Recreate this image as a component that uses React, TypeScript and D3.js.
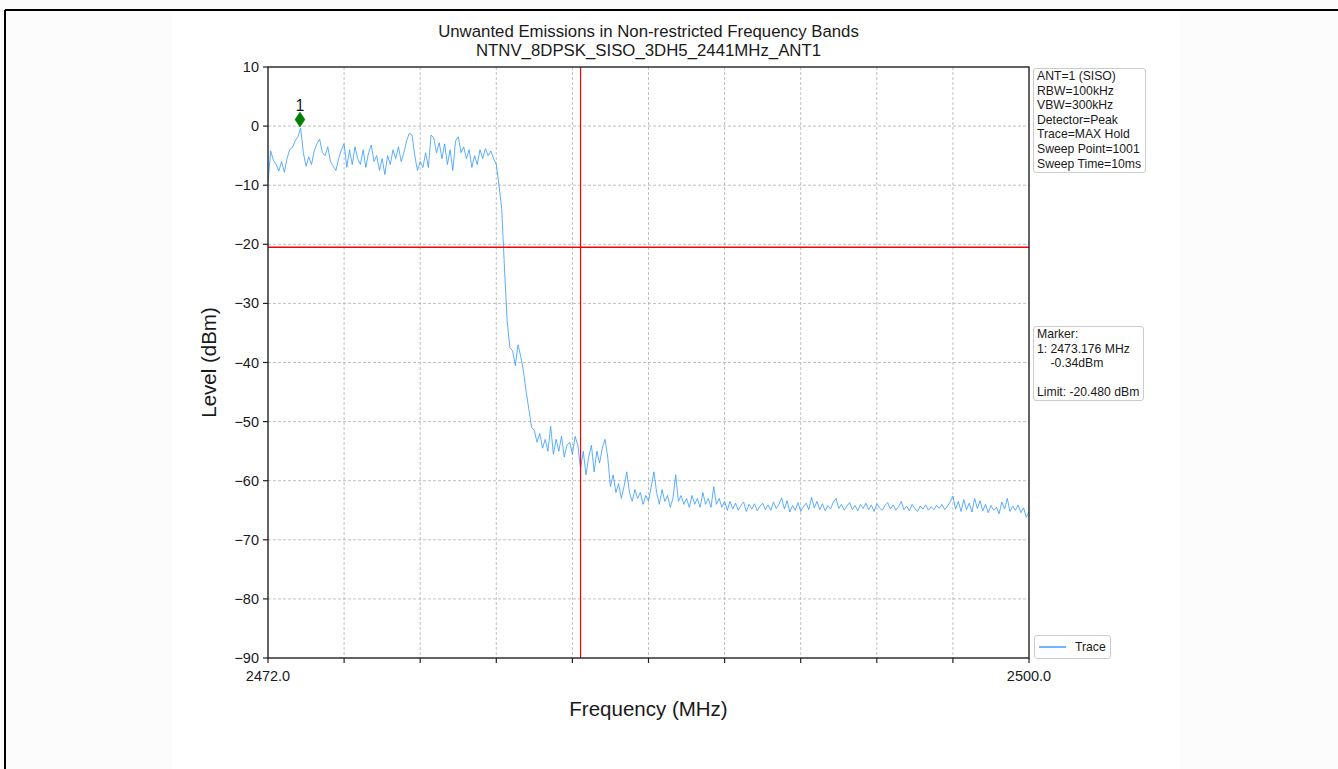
import React from "react";
import * as d3 from "d3";

const TITLE_LINES = ["Unwanted Emissions in Non-restricted Frequency Bands", "NTNV_8DPSK_SISO_3DH5_2441MHz_ANT1"];
const X_LABEL = "Frequency (MHz)";
const Y_LABEL = "Level (dBm)";
const F_START = 2472.0;
const F_STOP = 2500.0;
const F_STEP = 0.1;
const Y_MIN = -90;
const Y_MAX = 10;
const Y_TICKS = [10, 0, -10, -20, -30, -40, -50, -60, -70, -80, -90];
const X_TICK_LABELS = ["2472.0", "", "", "", "", "", "", "", "", "", "2500.0"];
const LIMIT_DBM = -20.48;
const BAND_EDGE_MHZ = 2483.5;
const MARKER_FREQ = 2473.176;
const MARKER_LEVEL = -0.34;
const MARKER_LABEL = "1";
const INFO_LINES = ["ANT=1 (SISO)", "RBW=100kHz", "VBW=300kHz", "Detector=Peak", "Trace=MAX Hold", "Sweep Point=1001", "Sweep Time=10ms"];
const MARKER_LINES = ["Marker:", "1: 2473.176 MHz", "    -0.34dBm", "", "Limit: -20.480 dBm"];
const LEGEND_LABEL = "Trace";

// Trace levels (dBm), one per 0.1 MHz from 2472.0 to 2500.0
const TRACE = [
  -9.5, -4.2, -5.8, -6.5, -7.6, -6.0, -7.8, -5.5, -4.0, -3.6,
  -2.5, -1.8, -0.34, -4.5, -6.8, -5.2, -6.5, -4.2, -3.0, -2.2,
  -4.5, -5.0, -3.5, -6.0, -6.8, -7.5, -5.5, -4.0, -3.0, -7.0,
  -4.0, -6.5, -3.5, -5.5, -6.5, -4.0, -7.0, -4.5, -3.2, -6.0,
  -5.0, -7.5, -5.5, -8.2, -5.0, -6.5, -4.0, -5.5, -3.5, -6.0,
  -4.5, -2.5, -1.2, -1.5, -5.0, -7.5, -6.0, -7.0, -4.5, -7.0,
  -1.5, -2.0, -4.5, -2.8, -5.5, -3.0, -6.5, -4.0, -7.5, -2.5,
  -1.8, -4.5, -3.5, -5.5, -4.0, -7.0, -5.0, -6.5, -4.0, -5.5,
  -3.8, -5.0, -4.2, -5.5, -6.5, -10.0, -14.0, -24.0, -33.0, -37.5,
  -38.0, -40.5, -37.0, -39.0, -41.5, -45.0, -48.0, -51.0, -51.5, -53.5,
  -52.0, -54.5, -53.0, -55.0, -50.8, -55.5, -53.0, -55.0, -52.5, -56.0,
  -54.0, -53.5, -55.5, -52.5, -54.0, -58.0, -55.0, -59.0, -56.0, -54.0,
  -58.5, -55.0, -57.0, -54.5, -53.0, -56.0, -61.0, -59.0, -62.0, -60.5,
  -63.0, -61.0, -58.5, -62.0, -63.5, -61.5, -63.0, -62.0, -64.0, -62.5,
  -63.5, -61.0, -58.5, -62.0, -64.0, -61.5, -63.5, -62.5, -64.5, -63.0,
  -59.0, -63.5, -62.5, -64.0, -63.0, -64.5, -62.5, -64.0, -63.0, -64.5,
  -62.0, -64.0, -63.0, -64.5, -61.0, -64.0, -63.0, -64.5, -63.5, -65.0,
  -63.5, -64.8, -63.8, -65.0, -64.2, -63.6, -65.2, -64.0, -64.8, -63.9,
  -65.1, -64.3, -63.8, -64.9, -64.1, -65.0, -63.6, -64.7, -64.0, -62.9,
  -64.8, -63.4, -65.3, -64.2, -65.0, -63.7, -65.2, -64.4, -63.8, -64.9,
  -62.8, -64.6, -63.5, -64.9, -63.9, -65.1, -64.2, -64.8, -63.6, -63.0,
  -64.7, -64.0, -65.0, -64.3, -63.7, -64.9, -64.2, -65.1, -64.0, -64.7,
  -63.8, -64.9, -64.1, -65.2, -63.9, -64.6, -65.0, -64.2, -63.7, -64.8,
  -64.1, -65.0, -64.4, -63.5, -64.9, -64.3, -65.1, -64.0, -64.7, -65.2,
  -64.3, -64.8, -64.1, -65.0, -64.4, -64.9, -64.2, -64.7, -64.0, -64.9,
  -64.3, -63.6, -62.6, -64.8, -63.5, -65.2, -63.2, -64.9, -63.8, -65.3,
  -63.0, -64.7, -63.4, -65.1, -64.0, -65.4, -64.2, -65.0, -64.5, -65.6,
  -63.6, -64.8, -63.0, -65.2, -64.3, -65.0, -64.1, -65.4, -64.6, -66.2,
  -65.3,
];

const W = 1338;
const H = 769;
const M = { left: 268, right: 1029, top: 67, bottom: 658 };
const FONT = "'Liberation Sans', Arial, Helvetica, sans-serif";
const TXT = "#1a1a1a";
const TRACE_COLOR = "#3399ff";

export default function App() {
  const x = d3.scaleLinear().domain([F_START, F_STOP]).range([M.left, M.right]);
  const y = d3.scaleLinear().domain([Y_MIN, Y_MAX]).range([M.bottom, M.top]);
  const xTicks = X_TICK_LABELS.map((_, i) => F_START + (i * (F_STOP - F_START)) / (X_TICK_LABELS.length - 1));
  const pts: [number, number][] = TRACE.map((v, i) => [F_START + i * F_STEP, v]);
  const line = d3.line<[number, number]>().x((d) => x(d[0])).y((d) => y(d[1]));
  const fmt = d3.format("d");
  const mx = x(MARKER_FREQ);
  const my = y(MARKER_LEVEL) - 8.5;

  return (
    <svg width={W} height={H} style={{ position: "absolute", left: 0, top: 0, display: "block" }} fontFamily={FONT}>
      <rect x={0} y={0} width={W} height={H} fill="#fcfcfc" />
      <rect x={172} y={11} width={1008} height={H - 11} fill="#ffffff" />
      <line x1={5} y1={10} x2={W} y2={10} stroke="#000" strokeWidth={2} />
      <line x1={5} y1={10} x2={5} y2={H} stroke="#000" strokeWidth={2} />

      {/* title */}
      {TITLE_LINES.map((t, i) => (
        <text key={t} x={(M.left + M.right) / 2} y={37 + i * 19} textAnchor="middle" fontSize={16.8} fill={TXT}>
          {t}
        </text>
      ))}

      {/* grid */}
      <g stroke="#b0b0b0" strokeWidth={0.8} strokeDasharray="3,2">
        {Y_TICKS.filter((t) => t !== Y_MIN && t !== Y_MAX).map((t) => (
          <line key={"gy" + t} x1={M.left} x2={M.right} y1={y(t)} y2={y(t)} />
        ))}
        {xTicks.slice(1, -1).map((t, i) => (
          <line key={"gx" + i} x1={x(t)} x2={x(t)} y1={M.top} y2={M.bottom} />
        ))}
      </g>

      {/* trace */}
      <path d={line(pts) || ""} fill="none" stroke={TRACE_COLOR} strokeWidth={0.8} strokeLinejoin="round" />

      {/* limit and band edge */}
      <line x1={M.left} x2={M.right} y1={y(LIMIT_DBM)} y2={y(LIMIT_DBM)} stroke="#ff0000" strokeWidth={1.5} />
      <line x1={x(BAND_EDGE_MHZ)} x2={x(BAND_EDGE_MHZ)} y1={M.top} y2={M.bottom} stroke="#ff0000" strokeWidth={1.2} />

      {/* marker */}
      <path d={`M${mx},${my - 7.5} L${mx + 5},${my} L${mx},${my + 7.5} L${mx - 5},${my} Z`} fill="#008000" stroke="#008000" strokeWidth={0.5} />
      <text x={mx} y={my - 8.5} textAnchor="middle" fontSize={16} fill={TXT}>
        {MARKER_LABEL}
      </text>

      {/* frame */}
      <rect x={M.left} y={M.top} width={M.right - M.left} height={M.bottom - M.top} fill="none" stroke="#222" strokeWidth={1.4} />

      {/* y ticks */}
      {Y_TICKS.map((t) => (
        <g key={"ty" + t}>
          <line x1={M.left - 5} x2={M.left} y1={y(t)} y2={y(t)} stroke="#222" strokeWidth={1.2} />
          <text x={M.left - 9} y={y(t) + 5} textAnchor="end" fontSize={14.5} fill={TXT}>
            {fmt(t)}
          </text>
        </g>
      ))}

      {/* x ticks */}
      {xTicks.map((t, i) => (
        <g key={"tx" + i}>
          <line x1={x(t)} x2={x(t)} y1={M.bottom} y2={M.bottom + 5} stroke="#222" strokeWidth={1.2} />
          {X_TICK_LABELS[i] && (
            <text x={x(t)} y={M.bottom + 23} textAnchor="middle" fontSize={14.5} fill={TXT}>
              {X_TICK_LABELS[i]}
            </text>
          )}
        </g>
      ))}

      {/* axis labels */}
      <text x={(M.left + M.right) / 2} y={716} textAnchor="middle" fontSize={20.5} fill={TXT}>
        {X_LABEL}
      </text>
      <text transform={`translate(216,${(M.top + M.bottom) / 2}) rotate(-90)`} textAnchor="middle" fontSize={20.5} fill={TXT}>
        {Y_LABEL}
      </text>

      {/* info box */}
      <rect x={1033.5} y={68.5} width={112} height={104} rx={2.5} fill="#fff" stroke="#cccccc" strokeWidth={1} />
      {INFO_LINES.map((t, i) => (
        <text key={"i" + i} x={1037} y={80 + i * 14.6} fontSize={12.2} fill={TXT}>
          {t}
        </text>
      ))}

      {/* marker box */}
      <rect x={1033.5} y={326.5} width={110} height={74} rx={2.5} fill="#fff" stroke="#cccccc" strokeWidth={1} />
      {MARKER_LINES.map((t, i) => (
        <text key={"m" + i} x={1037} y={338 + i * 14.6} fontSize={12.2} fill={TXT} style={{ whiteSpace: "pre" }}>
          {t}
        </text>
      ))}

      {/* legend */}
      <rect x={1034.5} y={635.5} width={76} height={23} rx={2.5} fill="#fff" stroke="#cccccc" strokeWidth={1} />
      <line x1={1039} x2={1066} y1={647} y2={647} stroke={TRACE_COLOR} strokeWidth={1.4} />
      <text x={1075} y={651} fontSize={12.2} fill={TXT}>
        {LEGEND_LABEL}
      </text>
    </svg>
  );
}
